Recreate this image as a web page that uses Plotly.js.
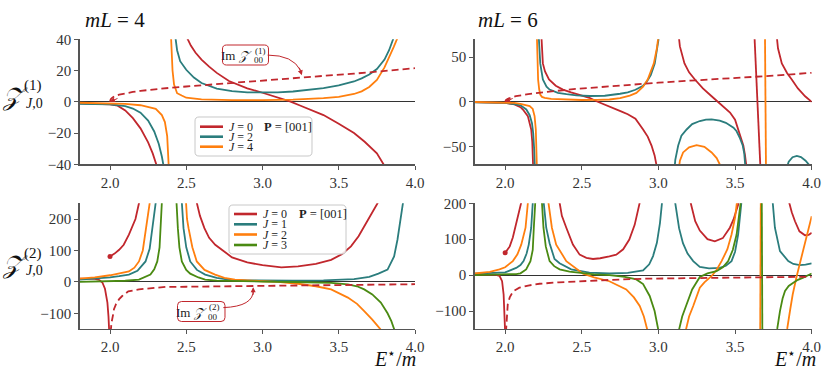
<!DOCTYPE html>
<html>
<head>
<meta charset="utf-8">
<script src="https://cdn.plot.ly/plotly-3.0.1.min.js"></script>
<style>
  html, body { margin: 0; padding: 0; background: #fff; }
  #chart { width: 830px; height: 378px; }
</style>
</head>
<body>
<div id="chart"></div>
<script>
const RED = "#c1272d", TEAL = "#2b7d7d", ORANGE = "#ff7f0e", GREEN = "#4a8a12";
const FONT = "Liberation Serif, DejaVu Serif, serif";
const W = 830, H = 378;

// every inner list is one branch of the curve (between two poles)

// ---- mL = 4, Z^(1)_{J,0}
const tl_J0_x = [
  [1.8, 1.9, 2.0, 2.05, 2.1, 2.15, 2.2, 2.25, 2.28, 2.31],
  [2.5, 2.53, 2.56, 2.6, 2.65, 2.7, 2.78, 2.85, 2.9, 3.0, 3.1, 3.18, 3.25, 3.3, 3.4, 3.5, 3.6, 3.67, 3.75, 3.8]
];
const tl_J0_y = [
  [-1.0, -1.2, -1.6, -2.5, -5.5, -10.5, -17, -26, -33, -42],
  [42, 36, 31.5, 27, 22.5, 18.5, 13.3, 10.3, 8.6, 5.8, 3, 0.3, -2.5, -4.5, -8.5, -14, -20, -25.6, -33, -41]
];
const tl_J2_x = [
  [1.8, 1.9, 2.0, 2.1, 2.15, 2.2, 2.25, 2.29, 2.32, 2.34, 2.355],
  [2.428, 2.44, 2.46, 2.5, 2.55, 2.6, 2.7, 2.8, 2.9, 3.0, 3.1, 3.2, 3.3, 3.4, 3.5, 3.6, 3.65, 3.7, 3.75, 3.8, 3.83, 3.86]
];
const tl_J2_y = [
  [-1.3, -1.4, -1.6, -2.8, -4.3, -7, -12, -19, -27, -35, -43],
  [42, 33, 26, 20.5, 15.5, 12, 8.5, 6.8, 6, 5.8, 6, 6.6, 7.6, 8.8, 10.5, 13, 15, 17.5, 21, 27, 33, 41]
];
const tl_J4_x = [
  [1.8, 1.9, 2.0, 2.1, 2.2, 2.27, 2.3, 2.34, 2.36, 2.375, 2.382, 2.387],
  [2.4, 2.405, 2.41, 2.42, 2.44, 2.47, 2.5, 2.6, 2.8, 3.0, 3.2, 3.4, 3.5, 3.6, 3.65, 3.7, 3.75, 3.8, 3.83, 3.86, 3.89]
];
const tl_J4_y = [
  [-0.6, -0.7, -0.9, -1.3, -2.2, -3.5, -4.5, -8.5, -13, -22, -32, -45],
  [42, 30, 20, 11, 5.5, 4, 2.6, 1.6, 1.1, 1.1, 1.4, 2.3, 3.2, 5, 6.7, 9.5, 14, 22, 28, 35, 42]
];
const tl_im_x = [2.0, 2.005, 2.015, 2.03, 2.06, 2.1, 2.15, 2.2, 2.3, 2.4, 2.5, 2.65, 2.8, 3.0, 3.2, 3.4, 3.6, 3.8, 4.0];
const tl_im_y = [0, 1.6, 2.6, 3.5, 4.6, 5.5, 6.3, 7.0, 8.1, 9.0, 9.8, 11.0, 12.2, 13.7, 15.2, 16.6, 18.0, 19.6, 21.5];

// ---- mL = 6, Z^(1)_{J,0}
const tr_J0_x = [
  [1.8, 1.9, 2.0, 2.061, 2.1, 2.116, 2.148, 2.17, 2.177, 2.183],
  [2.236, 2.246, 2.26, 2.286, 2.33, 2.377, 2.43, 2.486, 2.55, 2.6, 2.65, 2.7, 2.76, 2.8, 2.85, 2.9, 2.93, 2.955, 2.975, 2.992],
  [3.13, 3.14, 3.17, 3.2, 3.238, 3.29, 3.347, 3.39, 3.43, 3.467, 3.5, 3.521, 3.54, 3.554, 3.565, 3.576],
  [3.625, 3.645, 3.667],
  [3.768, 3.78, 3.805, 3.84, 3.87, 3.91, 3.957, 4.0]
];
const tr_J0_y = [
  [-0.3, -0.5, -1.2, -3, -6, -8.6, -16, -31, -45, -75],
  [75, 43, 34, 25, 18, 13.7, 10.5, 8, 4.5, 0.3, -3, -7, -11, -14, -19, -31, -39, -49, -60, -75],
  [78, 62, 43, 33, 25, 15, 6.2, 0, -6, -12, -20, -31, -40, -49, -60, -75],
  [80, 0, -80],
  [80, 60, 43, 32, 25, 15, 6.2, 0]
];
const tr_J2_x = [
  [1.8, 1.9, 2.0, 2.06, 2.1, 2.138, 2.16, 2.175, 2.183, 2.19, 2.195],
  [2.217, 2.222, 2.229, 2.246, 2.27, 2.29, 2.344, 2.4, 2.465, 2.55, 2.65, 2.75, 2.8, 2.85, 2.9, 2.922, 2.95, 2.976, 2.995, 3.01],
  [3.105, 3.11, 3.129, 3.15, 3.184, 3.22, 3.27, 3.31, 3.347, 3.4, 3.44, 3.467, 3.49, 3.51, 3.53, 3.55, 3.56, 3.568],
  [3.835, 3.85, 3.875, 3.903, 3.93, 3.96, 3.99]
];
const tr_J2_y = [
  [-0.5, -0.7, -1.3, -2.5, -4, -8.6, -15, -24, -35, -55, -80],
  [80, 60, 43, 25, 17, 13.7, 10, 8.5, 7.2, 6.5, 6.8, 9, 10.5, 13.5, 18, 22, 30, 43, 60, 80],
  [-75, -65, -49, -38, -31, -25, -21.5, -20, -19.7, -21, -23.5, -27, -29, -33, -40, -49, -58, -75],
  [-75, -67, -62, -60.5, -62, -66, -72]
];
const tr_J4_x = [
  [1.8, 1.9, 2.0, 2.06, 2.1, 2.16, 2.18, 2.192, 2.2, 2.205, 2.208],
  [2.206, 2.209, 2.212, 2.215, 2.222, 2.229, 2.24, 2.258, 2.3, 2.4, 2.5, 2.6, 2.68, 2.75, 2.813, 2.856, 2.9, 2.93, 2.955, 2.97, 2.99, 3.005],
  [3.133, 3.14, 3.161, 3.2, 3.249, 3.3, 3.347, 3.38, 3.4, 3.408],
  [3.695, 3.702]
];
const tr_J4_y = [
  [-0.2, -0.3, -0.6, -1.3, -2.2, -4.9, -8, -16, -31, -50, -80],
  [80, 50, 30, 24.8, 14, 8, 5.5, 4.4, 3.3, 2.4, 2.0, 2.1, 2.6, 4, 7, 10, 17, 25, 35, 43, 60, 80],
  [-75, -66, -56.7, -51, -48.6, -50.5, -56.7, -63, -70, -76],
  [80, -80]
];
const tr_im_x = [2.0, 2.005, 2.015, 2.03, 2.05, 2.07, 2.1, 2.15, 2.25, 2.35, 2.46, 2.6, 2.813, 3.0, 3.2, 3.4, 3.6, 3.8, 4.0];
const tr_im_y = [0, 1.8, 3.2, 4.3, 5.4, 6.3, 7.2, 8.5, 10.7, 12.6, 14.4, 16.2, 19.2, 21.4, 23.6, 25.6, 27.6, 29.8, 32.5];

// ---- mL = 4, Z^(2)_{J,0}
const bl_J0_x = [
  [1.8, 1.85, 1.9, 1.93, 1.95, 1.967, 1.975, 1.983, 1.99, 1.995],
  [2.0, 2.03, 2.06, 2.09, 2.124, 2.15, 2.167, 2.19, 2.2],
  [2.565, 2.569, 2.59, 2.619, 2.65, 2.69, 2.75, 2.8, 2.9, 3.0, 3.124, 3.233, 3.35, 3.45, 3.52, 3.58, 3.63, 3.667, 3.71, 3.754, 3.77]
];
const bl_J0_y = [
  [10.5, 10.3, 9.5, 6, -2, -22, -40, -66, -110, -160],
  [81, 90, 102, 118, 150, 180, 200, 250, 270],
  [260, 250, 210, 171, 140, 118, 95, 78, 62, 53, 46, 49, 57, 70, 88, 113, 145, 176, 210, 250, 270]
];
const bl_J1_x = [
  [1.8, 1.9, 2.0, 2.06, 2.124, 2.18, 2.233, 2.26, 2.28, 2.292, 2.302, 2.31],
  [2.466, 2.471, 2.476, 2.482, 2.5, 2.526, 2.57, 2.624, 2.7, 2.776, 2.9, 3.0, 3.2, 3.4, 3.5, 3.6, 3.7, 3.76, 3.82, 3.863, 3.885, 3.905, 3.924, 3.93]
];
const bl_J1_y = [
  [7, 10, 14, 18, 23, 35, 65, 105, 171, 210, 250, 290],
  [290, 250, 210, 171, 110, 65, 38, 23, 13, 7, 4.5, 4, 3.5, 4.5, 6, 9, 16, 26, 39, 81, 134, 190, 250, 280]
];
const bl_J2_x = [
  [1.8, 1.9, 2.0, 2.06, 2.124, 2.16, 2.19, 2.215, 2.24, 2.255, 2.265, 2.272],
  [2.494, 2.498, 2.505, 2.515, 2.54, 2.569, 2.62, 2.689, 2.75, 2.819, 2.9, 3.0, 3.1, 3.233, 3.35, 3.45, 3.56, 3.62, 3.667, 3.72, 3.772, 3.78]
];
const bl_J2_y = [
  [10.5, 14, 21, 27, 33, 45, 65, 100, 171, 215, 250, 290],
  [290, 250, 200, 171, 110, 65, 38, 23, 13, 7, 4, 2, 0, -6, -14, -24, -50, -70, -93, -120, -150, -160]
];
const bl_J3_x = [
  [1.8, 1.9, 2.0, 2.1, 2.19, 2.265, 2.29, 2.31, 2.325, 2.333, 2.338, 2.341, 2.344],
  [2.432, 2.435, 2.44, 2.445, 2.455, 2.471, 2.5, 2.526, 2.58, 2.624, 2.7, 2.8, 3.0, 3.2, 3.45, 3.56, 3.62, 3.667, 3.72, 3.776, 3.82, 3.845, 3.863, 3.87]
];
const bl_J3_y = [
  [0, 0.5, 1.5, 3.5, 7, 23, 40, 65, 110, 171, 215, 250, 290],
  [290, 250, 210, 171, 110, 65, 38, 26, 14, 7, 4, 2.5, 1, -0.5, -3, -8, -14, -24, -40, -66, -100, -125, -147, -160]
];
const bl_im_x = [2.004, 2.01, 2.02, 2.026, 2.04, 2.06, 2.08, 2.12, 2.19, 2.28, 2.363, 2.5, 2.7, 2.928, 3.2, 3.5, 3.75, 4.0];
const bl_im_y = [-160, -130, -105, -87, -70, -55, -45, -30, -24, -19, -16, -15.5, -14.5, -13.5, -12, -10.5, -9, -7.5];

// ---- mL = 6, Z^(2)_{J,0}
const br_J0_x = [
  [1.8, 1.9, 1.94, 1.963, 1.974, 1.98, 1.99, 1.996, 2.0],
  [2.0, 2.03, 2.05, 2.075, 2.094, 2.108, 2.115],
  [2.35, 2.355, 2.37, 2.399, 2.442, 2.486, 2.53, 2.573, 2.62, 2.68, 2.725, 2.77, 2.81, 2.845, 2.878, 2.885],
  [3.205, 3.211, 3.24, 3.27, 3.32, 3.368, 3.42, 3.466, 3.49, 3.52, 3.525],
  [3.845, 3.853, 3.87, 3.891, 3.92, 3.956, 3.98, 4.0]
];
const br_J0_y = [
  [2, 2, 1, -2, -10, -17, -54, -100, -160],
  [62, 80, 105, 150, 180, 205, 220],
  [215, 200, 165, 132, 85, 57, 48, 45, 47, 52, 57, 72, 99, 140, 200, 215],
  [215, 200, 150, 124, 100, 94, 103, 132, 155, 196, 215],
  [215, 200, 175, 150, 122, 111, 112, 118]
];
const br_J1_x = [
  [1.8, 1.9, 2.0, 2.072, 2.1, 2.12, 2.14, 2.154, 2.17, 2.18, 2.185],
  [2.248, 2.252, 2.268, 2.29, 2.322, 2.355, 2.431, 2.486, 2.55, 2.68, 2.8, 2.9, 2.94, 2.965, 2.99, 3.01, 3.024, 3.03],
  [3.105, 3.11, 3.135, 3.16, 3.19, 3.227, 3.27, 3.33, 3.4, 3.44, 3.477, 3.5, 3.52, 3.535, 3.542, 3.548],
  [3.74, 3.745, 3.76, 3.793, 3.847, 3.88, 3.923, 3.96, 4.0]
];
const br_J1_y = [
  [4, 5, 7.5, 20, 28, 39, 60, 85, 132, 200, 230],
  [230, 200, 132, 89, 45, 33, 16, 11, 7, 4.6, 6, 13, 30, 53, 90, 145, 200, 230],
  [230, 200, 130, 89, 60, 39, 23, 19, 20, 26, 39, 65, 113, 165, 200, 230],
  [230, 200, 132, 67, 39, 31, 28, 29, 33]
];
const br_J2_x = [
  [1.8, 1.9, 1.963, 2.0, 2.05, 2.08, 2.105, 2.133, 2.148, 2.152],
  [2.279, 2.283, 2.305, 2.333, 2.399, 2.475, 2.508, 2.58, 2.68, 2.79, 2.84, 2.878, 2.905, 2.926, 2.93],
  [3.175, 3.18, 3.2, 3.227, 3.25, 3.27, 3.3, 3.346, 3.38, 3.412, 3.45, 3.477, 3.5, 3.514, 3.52],
  [3.664, 3.668],
  [3.835, 3.84, 3.86, 3.876, 3.902, 3.93, 3.956, 3.98, 4.0]
];
const br_J2_y = [
  [4.6, 9, 16, 22, 39, 58, 85, 132, 200, 230],
  [230, 200, 132, 85, 39, 16, 4, -6, -17, -40, -62, -86, -115, -150, -160],
  [-160, -150, -115, -86, -60, -35, -20, -3, 15, 39, 72, 113, 160, 200, 230],
  [-160, 230],
  [-160, -150, -95, -54, -3, 45, 85, 125, 164]
];
const br_J3_x = [
  [1.8, 1.9, 2.0, 2.072, 2.1, 2.137, 2.165, 2.18, 2.187, 2.193, 2.196, 2.2],
  [2.236, 2.24, 2.25, 2.265, 2.29, 2.32, 2.355, 2.42, 2.486, 2.58, 2.68, 2.78, 2.856, 2.9, 2.943, 2.975, 2.998, 3.003],
  [3.13, 3.135, 3.155, 3.18, 3.22, 3.27, 3.32, 3.379, 3.42, 3.455, 3.485, 3.51, 3.528, 3.536, 3.54],
  [3.674, 3.678],
  [3.77, 3.775, 3.793, 3.81, 3.826, 3.85, 3.88, 3.91, 3.945, 3.97, 4.0]
];
const br_J3_y = [
  [0, 0.5, 1, 3, 5, 16, 39, 70, 132, 180, 200, 230],
  [230, 200, 132, 80, 39, 25, 16, 10, 6.5, 2, 0, -5, -12, -25, -58, -100, -150, -160],
  [-160, -150, -115, -86, -40, -5, 5, 11, 22, 39, 70, 113, 165, 200, 230],
  [230, -160],
  [-160, -150, -100, -65, -44, -30, -21, -13, -7, -1, 4.7]
];
const br_im_x = [2.005, 2.01, 2.017, 2.03, 2.04, 2.06, 2.093, 2.15, 2.224, 2.35, 2.486, 2.7, 2.9, 3.1, 3.336, 3.6, 3.8, 4.0];
const br_im_y = [-160, -115, -81, -62, -54, -43, -35, -29, -24, -20, -17, -13, -10, -8.6, -7.4, -6.2, -5.4, -4.6];

const topLabels = ["<i>J</i> = 0", "<i>J</i> = 2", "<i>J</i> = 4"];
const topColors = [RED, TEAL, ORANGE];
const botLabels = ["<i>J</i> = 0", "<i>J</i> = 1", "<i>J</i> = 2", "<i>J</i> = 3"];
const botColors = [RED, TEAL, ORANGE, GREEN];

// join the branches with gaps so the poles are not bridged
function joined(branches) {
  let out = [];
  branches.forEach((b, i) => {
    if (i > 0) out.push(null);
    out = out.concat(b);
  });
  return out;
}

let traces = [];
function addCurve(bx, by, color, ax) {
  traces.push({
    x: joined(bx), y: joined(by), xaxis: "x" + ax, yaxis: "y" + ax,
    mode: "lines", line: { color: color, width: 1.8 }, hoverinfo: "skip", showlegend: false
  });
}
function addIm(x, y, ax) {
  traces.push({
    x: x, y: y, xaxis: "x" + ax, yaxis: "y" + ax,
    mode: "lines", line: { color: RED, width: 1.8, dash: "7px,4px" }, hoverinfo: "skip", showlegend: false
  });
}

addCurve(tl_J0_x, tl_J0_y, RED, "");
addCurve(tl_J2_x, tl_J2_y, TEAL, "");
addCurve(tl_J4_x, tl_J4_y, ORANGE, "");
addIm(tl_im_x, tl_im_y, "");

addCurve(tr_J0_x, tr_J0_y, RED, "2");
addCurve(tr_J2_x, tr_J2_y, TEAL, "2");
addCurve(tr_J4_x, tr_J4_y, ORANGE, "2");
addIm(tr_im_x, tr_im_y, "2");

addCurve(bl_J0_x, bl_J0_y, RED, "3");
addCurve(bl_J1_x, bl_J1_y, TEAL, "3");
addCurve(bl_J2_x, bl_J2_y, ORANGE, "3");
addCurve(bl_J3_x, bl_J3_y, GREEN, "3");
addIm(bl_im_x, bl_im_y, "3");

addCurve(br_J0_x, br_J0_y, RED, "4");
addCurve(br_J1_x, br_J1_y, TEAL, "4");
addCurve(br_J2_x, br_J2_y, ORANGE, "4");
addCurve(br_J3_x, br_J3_y, GREEN, "4");
addIm(br_im_x, br_im_y, "4");

// dot at the start of the second J=0 branch
[["3", bl_J0_x, bl_J0_y], ["4", br_J0_x, br_J0_y]].forEach(([ax, bx, by]) => {
  traces.push({
    x: [bx[1][0]], y: [by[1][0]], xaxis: "x" + ax, yaxis: "y" + ax,
    mode: "markers", marker: { color: RED, size: 5 }, hoverinfo: "skip", showlegend: false
  });
});

// pixel -> paper helpers for the decorations
const fx = p => p / W;
const fy = p => 1 - p / H;
function roundBox(x0, y0, x1, y1, r) {
  const X = p => fx(p).toFixed(5), Y = p => fy(p).toFixed(5);
  return `M ${X(x0 + r)},${Y(y0)} L ${X(x1 - r)},${Y(y0)} Q ${X(x1)},${Y(y0)} ${X(x1)},${Y(y0 + r)} ` +
    `L ${X(x1)},${Y(y1 - r)} Q ${X(x1)},${Y(y1)} ${X(x1 - r)},${Y(y1)} L ${X(x0 + r)},${Y(y1)} ` +
    `Q ${X(x0)},${Y(y1)} ${X(x0)},${Y(y1 - r)} L ${X(x0)},${Y(y0 + r)} Q ${X(x0)},${Y(y0)} ${X(x0 + r)},${Y(y0)} Z`;
}
function txt(x, y, s, size, xanchor, color) {
  return {
    xref: "paper", yref: "paper", x: fx(x), y: fy(y), text: s, showarrow: false,
    xanchor: xanchor || "center", yanchor: "middle",
    font: { family: FONT, size: size, color: color || "#222" }
  };
}

let shapes = [];
let annotations = [];

// legends
function legend(box, rows, labels, colors, lineX0, lineX1, textX, pX) {
  shapes.push({ type: "path", xref: "paper", yref: "paper", path: roundBox(box[0], box[1], box[2], box[3], 4),
    line: { color: "#c8c8c8", width: 1 }, fillcolor: "rgba(255,255,255,0.85)", layer: "above" });
  labels.forEach((lab, i) => {
    shapes.push({ type: "line", xref: "paper", yref: "paper", x0: fx(lineX0), x1: fx(lineX1),
      y0: fy(rows[i]), y1: fy(rows[i]), line: { color: colors[i], width: 2.6 }, layer: "above" });
    annotations.push(txt(textX, rows[i], lab, 12, "left"));
  });
  annotations.push(txt(pX, rows[0], "<b>P</b> = [001]", 12.5, "left"));
}
legend([195, 117, 312, 156], [126.7, 136.7, 146.7], topLabels, topColors, 200, 223, 227, 262);
legend([229, 205, 346, 254], [214, 224.3, 234.5, 245], botLabels, botColors, 234, 257, 261, 297);

// Im Z_00 labels with curved arrows
shapes.push({ type: "path", xref: "paper", yref: "paper", path: roundBox(222.5, 45, 268.5, 65, 4),
  line: { color: RED, width: 1 }, fillcolor: "white", layer: "above" });
annotations.push(txt(236, 55.5, "Im <i>𝒵</i>", 13));
annotations.push(txt(260, 50.5, "(1)", 9));
annotations.push(txt(259, 60.5, "00", 9));
shapes.push({ type: "path", xref: "x", yref: "y", path: "M 3.034,29.9 Q 3.199,29.9 3.25,20",
  line: { color: RED, width: 1 } });
annotations.push({ xref: "x", yref: "y", x: 3.258, y: 17, ax: -3, ay: -9, text: "", showarrow: true,
  arrowhead: 2, arrowsize: 1, arrowwidth: 1, arrowcolor: RED, standoff: 0 });

shapes.push({ type: "path", xref: "paper", yref: "paper", path: roundBox(177.5, 301.5, 225, 321.5, 4),
  line: { color: RED, width: 1 }, fillcolor: "white", layer: "above" });
annotations.push(txt(191, 312, "Im <i>𝒵</i>", 13));
annotations.push(txt(214.5, 307, "(2)", 9));
annotations.push(txt(213, 316.5, "00", 9));
shapes.push({ type: "path", xref: "x3", yref: "y3", path: "M 2.743,-82 Q 2.945,-78 2.939,-25",
  line: { color: RED, width: 1 } });
annotations.push({ xref: "x3", yref: "y3", x: 2.939, y: -17, ax: 0, ay: 9, text: "", showarrow: true,
  arrowhead: 2, arrowsize: 1, arrowwidth: 1, arrowcolor: RED, standoff: 0 });

// small arrow heads at the start of the dashed curves (top row)
[["x", "y"], ["x2", "y2"]].forEach(([xr, yr]) => {
  annotations.push({ xref: xr, yref: yr, x: 2.0, y: 0, ax: 9, ay: -4, text: "", showarrow: true,
    arrowhead: 2, arrowsize: 1, arrowwidth: 1, arrowcolor: RED, standoff: 0 });
});

// panel titles and axis labels
annotations.push(txt(83, 20, "<i>mL</i> = 4", 21, "left", "#111"));
annotations.push(txt(476, 20, "<i>mL</i> = 6", 21, "left", "#111"));
annotations.push(txt(15, 97, "<i>𝒵</i>", 25, "center", "#111"));
annotations.push(txt(33, 86, "(1)", 15, "center", "#111"));
annotations.push(txt(34, 103, "<i>J</i>,0", 14, "center", "#111"));
annotations.push(txt(15, 265, "<i>𝒵</i>", 25, "center", "#111"));
annotations.push(txt(33, 253, "(2)", 15, "center", "#111"));
annotations.push(txt(34, 270, "<i>J</i>,0", 14, "center", "#111"));
annotations.push(txt(418, 358, "<i>E</i><sup>⋆</sup>/<i>m</i>", 20, "right", "#111"));
annotations.push(txt(818, 358, "<i>E</i><sup>⋆</sup>/<i>m</i>", 20, "right", "#111"));

function xAxis(domain, anchor) {
  return {
    domain: domain, anchor: anchor, range: [1.8, 4.0], tick0: 2, dtick: 0.5, tickformat: ".1f",
    showgrid: false, zeroline: false, showline: true, linecolor: "#555", linewidth: 1.2,
    ticks: "outside", ticklen: 4, tickcolor: "#555", tickfont: { family: FONT, size: 15, color: "#333" }
  };
}
function yAxis(domain, anchor, range, tickvals) {
  return {
    domain: domain, anchor: anchor, range: range, tickvals: tickvals,
    showgrid: false, zeroline: true, zerolinecolor: "#333", zerolinewidth: 1.2,
    showline: true, linecolor: "#555", linewidth: 1.2,
    ticks: "outside", ticklen: 4, tickcolor: "#555", tickfont: { family: FONT, size: 15, color: "#333" }
  };
}
const leftDom = [79.5 / W, 415 / W], rightDom = [474.5 / W, 811.7 / W];
const topDom = [1 - 164.3 / H, 1 - 39.3 / H], botDom = [1 - 329 / H, 1 - 203.3 / H];

const layout = {
  width: W, height: H, margin: { l: 0, r: 0, t: 0, b: 0 },
  paper_bgcolor: "white", plot_bgcolor: "white", showlegend: false,
  xaxis: xAxis(leftDom, "y"),
  yaxis: yAxis(topDom, "x", [-40, 40], [-40, -20, 0, 20, 40]),
  xaxis2: xAxis(rightDom, "y2"),
  yaxis2: yAxis(topDom, "x2", [-70, 70], [-50, 0, 50]),
  xaxis3: xAxis(leftDom, "y3"),
  yaxis3: yAxis(botDom, "x3", [-150, 250], [-100, 0, 100, 200]),
  xaxis4: xAxis(rightDom, "y4"),
  yaxis4: yAxis(botDom, "x4", [-150, 200], [-100, 0, 100, 200]),
  shapes: shapes,
  annotations: annotations
};

Plotly.newPlot("chart", traces, layout, { displayModeBar: false, staticPlot: true });
</script>
</body>
</html>
